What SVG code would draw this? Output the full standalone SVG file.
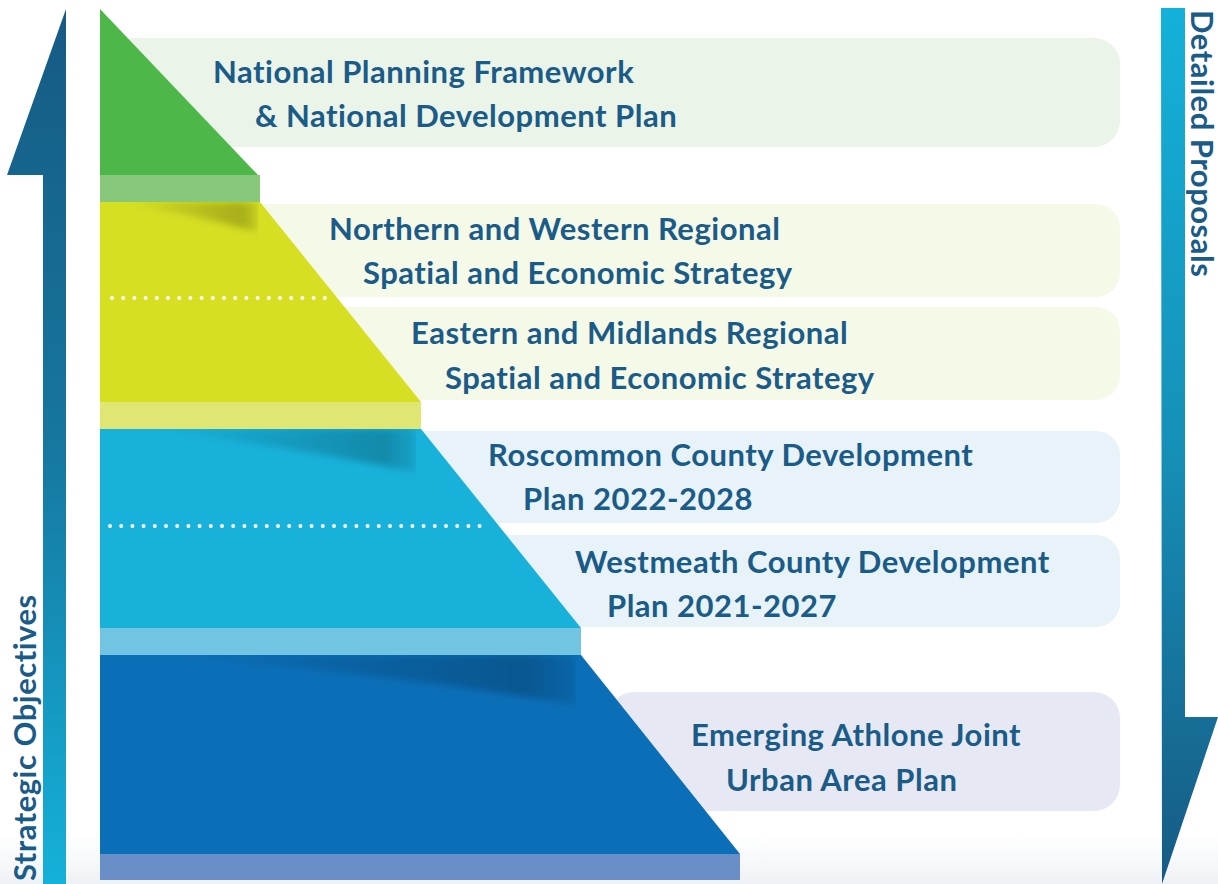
<svg xmlns="http://www.w3.org/2000/svg" width="1218" height="884" viewBox="0 0 1218 884">
<defs>
<linearGradient id="upArrow" x1="0" y1="0" x2="0" y2="1">
<stop offset="0" stop-color="#165a84"/><stop offset="0.5" stop-color="#16779f"/><stop offset="1" stop-color="#14b1da"/>
</linearGradient>
<linearGradient id="downArrow" x1="0" y1="0" x2="0" y2="1">
<stop offset="0" stop-color="#14b1da"/><stop offset="0.5" stop-color="#1690b8"/><stop offset="1" stop-color="#165a84"/>
</linearGradient>
<linearGradient id="shade" x1="0" y1="0" x2="1" y2="0">
<stop offset="0" stop-color="#000" stop-opacity="0"/><stop offset="0.88" stop-color="#000" stop-opacity="0.22"/><stop offset="1" stop-color="#000" stop-opacity="0.08"/>
</linearGradient>
<linearGradient id="floor" x1="0" y1="0" x2="0" y2="1">
<stop offset="0" stop-color="#f4f6f9" stop-opacity="0"/><stop offset="1" stop-color="#eef1f5"/>
</linearGradient>
<filter id="blur" x="-10%" y="-50%" width="120%" height="200%"><feGaussianBlur stdDeviation="3.5"/></filter>
<clipPath id="cY"><polygon points="100,202 258,202 258,402 100,402"/></clipPath>
<clipPath id="cC"><polygon points="100,429 416,429 416,628 100,628"/></clipPath>
<clipPath id="cB"><polygon points="100,655 576,655 576,854 100,854"/></clipPath>
</defs>
<style>
.lbl{font-family:Lato,"Noto Sans",sans-serif;font-weight:bold;font-size:31px;letter-spacing:0.5px;fill:#1a5b87}
.dots{stroke:#ffffff;stroke-width:4;stroke-linecap:round;stroke-dasharray:0 11.2}
</style>
<rect x="0" y="0" width="1218" height="884" fill="#ffffff"/>
<rect x="0" y="830" width="1218" height="54" fill="url(#floor)"/>

<g id="box-npf"><rect x="110" y="38" width="1010" height="109" rx="26" fill="#eaf4e8"/></g>
<g id="box-nwr"><rect x="200" y="204" width="920" height="93" rx="24" fill="#f5f9e7"/></g>
<g id="box-emr"><rect x="280" y="307" width="840" height="93" rx="24" fill="#f5f9e7"/></g>
<g id="box-ros"><rect x="380" y="431" width="740" height="92" rx="24" fill="#e8f3f9"/></g>
<g id="box-wes"><rect x="460" y="535" width="660" height="92" rx="24" fill="#e8f3f9"/></g>
<g id="box-ath"><rect x="608" y="692" width="512" height="119" rx="26" fill="#e6e9f4"/></g>

<g id="arrow-up"><polygon points="66,9 66,884 43,884 43,175 7,175" fill="url(#upArrow)"/></g>
<g id="arrow-down"><polygon points="1161,8 1185,8 1185,717 1218,717 1162,884" fill="url(#downArrow)"/></g>

<g id="tier-national">
<polygon points="100,9 258,175 100,175" fill="#4db74a"/>
<rect x="100" y="175" width="160" height="27" fill="#88c87a"/>
</g>
<g id="tier-regional">
<polygon points="100,202 260,202 421,402 100,402" fill="#d6df22"/>
<g clip-path="url(#cY)"><path d="M120,202 L258,202 L258,232 Q190,214 120,202 Z" fill="url(#shade)" filter="url(#blur)"/></g>
<rect x="100" y="402" width="321" height="27" fill="#e0e672"/>
<line class="dots" x1="112" y1="298" x2="330" y2="298"/>
</g>
<g id="tier-county">
<polygon points="100,429 421,429 581,628 100,628" fill="#18b1da"/>
<g clip-path="url(#cC)"><path d="M150,429 L416,429 L416,472 Q280,445 150,429 Z" fill="url(#shade)" filter="url(#blur)"/></g>
<rect x="100" y="628" width="481" height="27" fill="#72c4e3"/>
<line class="dots" x1="110" y1="526" x2="482" y2="526"/>
</g>
<g id="tier-local">
<polygon points="100,655 581,655 740,854 100,854" fill="#0b6fb8"/>
<g clip-path="url(#cB)"><path d="M150,655 L576,655 L576,705 Q380,672 150,655 Z" fill="url(#shade)" filter="url(#blur)"/></g>
<rect x="100" y="854" width="640" height="26" fill="#6a8fc8"/>
</g>

<g id="labels">
<text class="lbl" x="213" y="83">National Planning Framework</text>
<text class="lbl" x="255" y="127">&amp; National Development Plan</text>
<text class="lbl" x="329" y="240">Northern and Western Regional</text>
<text class="lbl" x="363" y="284">Spatial and Economic Strategy</text>
<text class="lbl" x="411" y="344">Eastern and Midlands Regional</text>
<text class="lbl" x="445" y="389">Spatial and Economic Strategy</text>
<text class="lbl" x="488" y="466">Roscommon County Development</text>
<text class="lbl" x="523" y="510">Plan 2022-2028</text>
<text class="lbl" x="575" y="573">Westmeath County Development</text>
<text class="lbl" x="607" y="617">Plan 2021-2027</text>
<text class="lbl" x="691" y="746">Emerging Athlone Joint</text>
<text class="lbl" x="726" y="791">Urban Area Plan</text>
<text class="lbl" transform="translate(36,881) rotate(-90)">Strategic Objectives</text>
<text class="lbl" transform="translate(1191,10) rotate(90)">Detailed Proposals</text>
</g>
</svg>
